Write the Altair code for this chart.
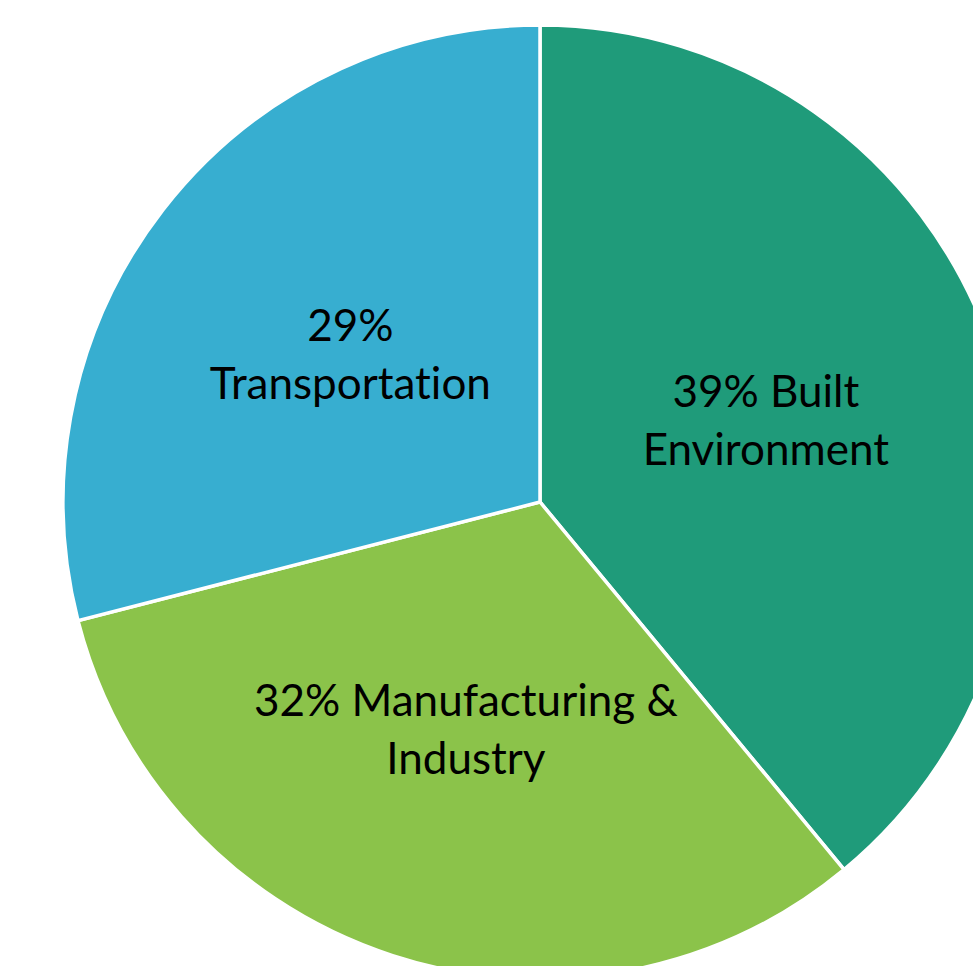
import altair as alt
import pandas as pd

# Share of energy use by sector, in percent
sectors = ["Built Environment", "Manufacturing & Industry", "Transportation"]
shares = [39, 32, 29]
# a zero-width non-joiner keeps "t" and "i" as separate glyphs (no "ti" ligature)
labels = ["39% Built\nEnvironment", "32% Manufacturing &\nIndustry", "29%\nTransportat\u200cion"]
colors = ["#1f9b7a", "#8bc34a", "#37aed0"]

df = pd.DataFrame({"sector": sectors, "share": shares, "label": labels, "order": [0, 1, 2]})

cx, cy, r = 540, 502, 477

base = alt.Chart(df).encode(
    theta=alt.Theta("share:Q", stack=True),
    order=alt.Order("order:Q"),
)

pie = base.mark_arc(
    radius=r, stroke="white", strokeWidth=3.5, clip=True
).encode(
    x=alt.value(cx),
    y=alt.value(cy),
    color=alt.Color("sector:N", scale=alt.Scale(domain=sectors, range=colors), legend=None),
)

text = base.mark_text(
    radius=240, font="Lato", fontSize=44, lineBreak="\n", lineHeight=58,
    color="black", align="center", baseline="middle", dy=-27,
).encode(
    x=alt.value(cx),
    y=alt.value(cy),
    text="label:N",
)

chart = (pie + text).properties(
    width=973, height=966,
    autosize=alt.AutoSizeParams(type="none"),
    padding=0,
).configure_view(stroke=None)

chart.save("out.html", embed_options={"renderer": "svg", "actions": False})
